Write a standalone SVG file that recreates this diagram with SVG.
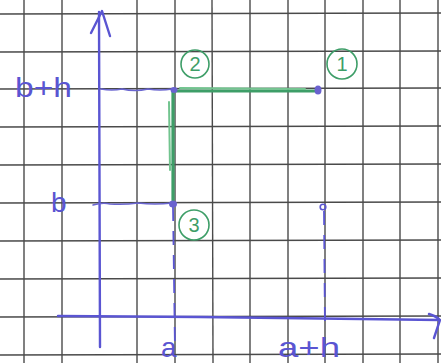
<svg xmlns="http://www.w3.org/2000/svg" width="441" height="363" viewBox="0 0 441 363">
<defs>
<style>
.grid line{stroke:#4a4a4a;stroke-width:1.4}
.ax{stroke:#5a55d2;stroke-width:2.4;fill:none;stroke-linecap:round;stroke-linejoin:round}
.guide{stroke:#6a66d0;stroke-width:1.5;fill:none;stroke-linecap:round}
.dash{stroke:#5a55d2;stroke-width:1.8;fill:none;stroke-dasharray:14 10}
.lbl{font-family:"Liberation Sans","DejaVu Sans",sans-serif;fill:#5a55d2;font-size:28px}
.gcirc{fill:none;stroke:#3e9e68;stroke-width:1.6}
.gnum{font-family:"Liberation Sans","DejaVu Sans",sans-serif;fill:#3e9e68;font-size:20px;text-anchor:middle}
.seg{stroke:#3e9e68;stroke-width:3.2;fill:none;stroke-linecap:round}
.seg2{stroke:#72c48f;stroke-width:2;fill:none;stroke-linecap:round}
.pt{fill:#6a62cf}
</style>
</defs>
<rect width="441" height="363" fill="#ffffff"/>
<g class="grid">
<line x1="24" y1="0" x2="24" y2="363"/>
<line x1="62" y1="0" x2="62" y2="363"/>
<line x1="137" y1="0" x2="137" y2="363"/>
<line x1="175" y1="0" x2="175" y2="363"/>
<line x1="212" y1="0" x2="213" y2="363"/>
<line x1="250" y1="0" x2="250" y2="363"/>
<line x1="288" y1="0" x2="288" y2="363"/>
<line x1="325" y1="0" x2="325" y2="363"/>
<line x1="363" y1="0" x2="363" y2="363"/>
<line x1="400" y1="0" x2="400" y2="363"/>
<line x1="438" y1="0" x2="438" y2="363"/>
<line x1="0" y1="14" x2="441" y2="13"/>
<line x1="0" y1="52" x2="441" y2="51"/>
<line x1="0" y1="89" x2="441" y2="88"/>
<line x1="0" y1="127" x2="441" y2="126"/>
<line x1="0" y1="165" x2="441" y2="164"/>
<line x1="0" y1="203" x2="441" y2="202"/>
<line x1="0" y1="241" x2="441" y2="240"/>
<line x1="0" y1="279" x2="441" y2="278"/>
<line x1="0" y1="317" x2="441" y2="316"/>
<line x1="0" y1="355" x2="441" y2="354"/>
</g>
<g id="axes">
<path class="ax" d="M100 347 L99 12"/>
<path class="ax" d="M91 33 L102 11 L110 36"/>
<path class="ax" d="M58 316 L200 317 L440 320"/>
<path class="ax" d="M429 314 Q436 316 440 320 L434 338"/>
</g>
<g id="connectors">
<path class="guide" d="M101 89 Q112 91 122 89 Q135 92 148 89 Q160 91 172 89"/>
<path class="guide" d="M93 205 Q103 202 110 204 Q124 205 138 203 Q155 205 172 203"/>
<path class="dash" d="M173 207 L175 350"/>
<path class="dash" d="M324 211 L325 330"/>
<path class="seg" d="M176 91 L316 91"/>
<path class="seg2" d="M180 88 L305 89"/>
<path class="seg" d="M173 92 L173 200"/>
<path class="seg2" d="M169 102 L170 170"/>
</g>
<g id="p2">
<ellipse class="pt" cx="174" cy="90" rx="3.5" ry="3"/>
<circle class="gcirc" cx="195" cy="64" r="14"/>
<text class="gnum" x="195" y="71">2</text>
</g>
<g id="p1">
<ellipse class="pt" cx="318" cy="90" rx="3.5" ry="4.5"/>
<circle class="gcirc" cx="342" cy="64" r="15"/>
<text class="gnum" x="342" y="71">1</text>
</g>
<g id="p3">
<ellipse class="pt" cx="173" cy="204" rx="4" ry="3.5"/>
<circle class="gcirc" cx="194" cy="225" r="15"/>
<text class="gnum" x="194" y="232">3</text>
</g>
<g id="p4">
<circle cx="323" cy="207" r="2.8" fill="none" stroke="#5a55d2" stroke-width="1.6"/>
</g>
<g id="labels">
<text class="lbl" x="15" y="97" textLength="57" lengthAdjust="spacingAndGlyphs">b+h</text>
<text class="lbl" x="51" y="212">b</text>
<text class="lbl" x="161" y="357">a</text>
<text class="lbl" x="278" y="357" textLength="62" lengthAdjust="spacingAndGlyphs">a+h</text>
</g>
</svg>
